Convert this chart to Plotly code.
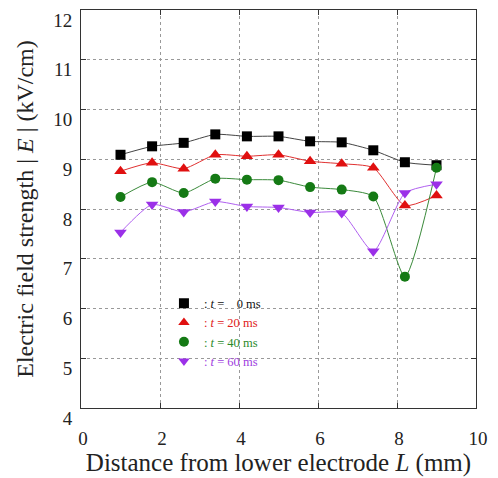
import plotly.graph_objects as go

L_mm = [1.0, 1.8, 2.6, 3.4, 4.2, 5.0, 5.8, 6.6, 7.4, 8.2, 9.0]
E_0ms = [9.09, 9.26, 9.33, 9.50, 9.46, 9.46, 9.36, 9.34, 9.18, 8.94, 8.88]
E_20ms = [8.76, 8.93, 8.81, 9.09, 9.06, 9.09, 8.96, 8.91, 8.83, 8.07, 8.27]
E_40ms = [8.24, 8.54, 8.32, 8.61, 8.59, 8.58, 8.44, 8.39, 8.25, 6.64, 8.83]
E_60ms = [7.53, 8.09, 7.94, 8.15, 8.05, 8.03, 7.93, 7.92, 7.15, 8.32, 8.50]
x_ticks = [0, 2, 4, 6, 8, 10]
y_ticks = [4, 5, 6, 7, 8, 9, 10, 11, 12]

FONT = "Liberation Serif"
NB = "\u00a0"

series = [
    ("0", E_0ms, "#000000", "#444444", "square", 10, "#111111"),
    ("20", E_20ms, "#e01010", "#e03030", "triangle-up", 11, "#e02020"),
    ("40", E_40ms, "#157a15", "#3a8a3a", "circle", 10, "#2a8a2a"),
    ("60", E_60ms, "#9b30e8", "#b060f0", "triangle-down", 11, "#a040e0"),
]

fig = go.Figure()
for t, ys, mcol, lcol, sym, size, tcol in series:
    fig.add_trace(go.Scatter(
        x=L_mm, y=ys, mode="lines+markers", showlegend=False,
        line=dict(color=lcol, width=1, shape="spline", smoothing=0.6),
        marker=dict(symbol=sym, size=size, color=mcol, line=dict(width=0)),
    ))

for t, ys, mcol, lcol, sym, size, tcol in series:
    tt = (NB * 3 + t) if len(t) == 1 else t
    name = f"<span style='color:{tcol}'>:{NB}<i>t</i>{NB}={NB}{tt}{NB}ms</span>"
    fig.add_trace(go.Scatter(
        x=[None], y=[None], mode="markers", name=name,
        marker=dict(symbol=sym, size=10, color=mcol),
    ))

axis_common = dict(
    showline=True, linecolor="#333", linewidth=1, mirror="allticks",
    ticks="inside", ticklen=5, tickcolor="#333",
    showgrid=True, gridcolor="#999", griddash="dot", gridwidth=1,
    zeroline=False, tickfont=dict(family=FONT, size=19, color="#222"),
    ticklabeloverflow="allow", automargin=False,
)

fig.update_xaxes(
    range=[0, 10], tickvals=x_ticks, ticktext=[str(v) for v in x_ticks],
    ticklabelstandoff=13, ticklabelshift=2,
    title=dict(text="Distance from lower electrode <i>L</i> (mm)",
               font=dict(family=FONT, size=25, color="#222"), standoff=2),
    **axis_common,
)
fig.update_yaxes(
    range=[4, 12], tickvals=y_ticks, ticktext=[str(v) for v in y_ticks],
    ticklabelshift=10, ticklabelstandoff=4,
    title=dict(text="Electric field strength | <i>E</i> | (kV/cm)",
               font=dict(family=FONT, size=24, color="#222"), standoff=12),
    **axis_common,
)

fig.update_layout(
    width=498, height=478,
    margin=dict(l=81, r=22, t=10, b=70),
    paper_bgcolor="white", plot_bgcolor="white",
    font=dict(family=FONT, size=13, color="#222"),
    legend=dict(x=0.21, y=0.30, xanchor="left", yanchor="top",
                bgcolor="rgba(0,0,0,0)", font=dict(family=FONT, size=12.5),
                tracegroupgap=0, itemwidth=30),
)

fig.write_html("out.html", config={"displayModeBar": False},
               post_script="document.body.style.margin='0';document.body.style.overflow='hidden';")
